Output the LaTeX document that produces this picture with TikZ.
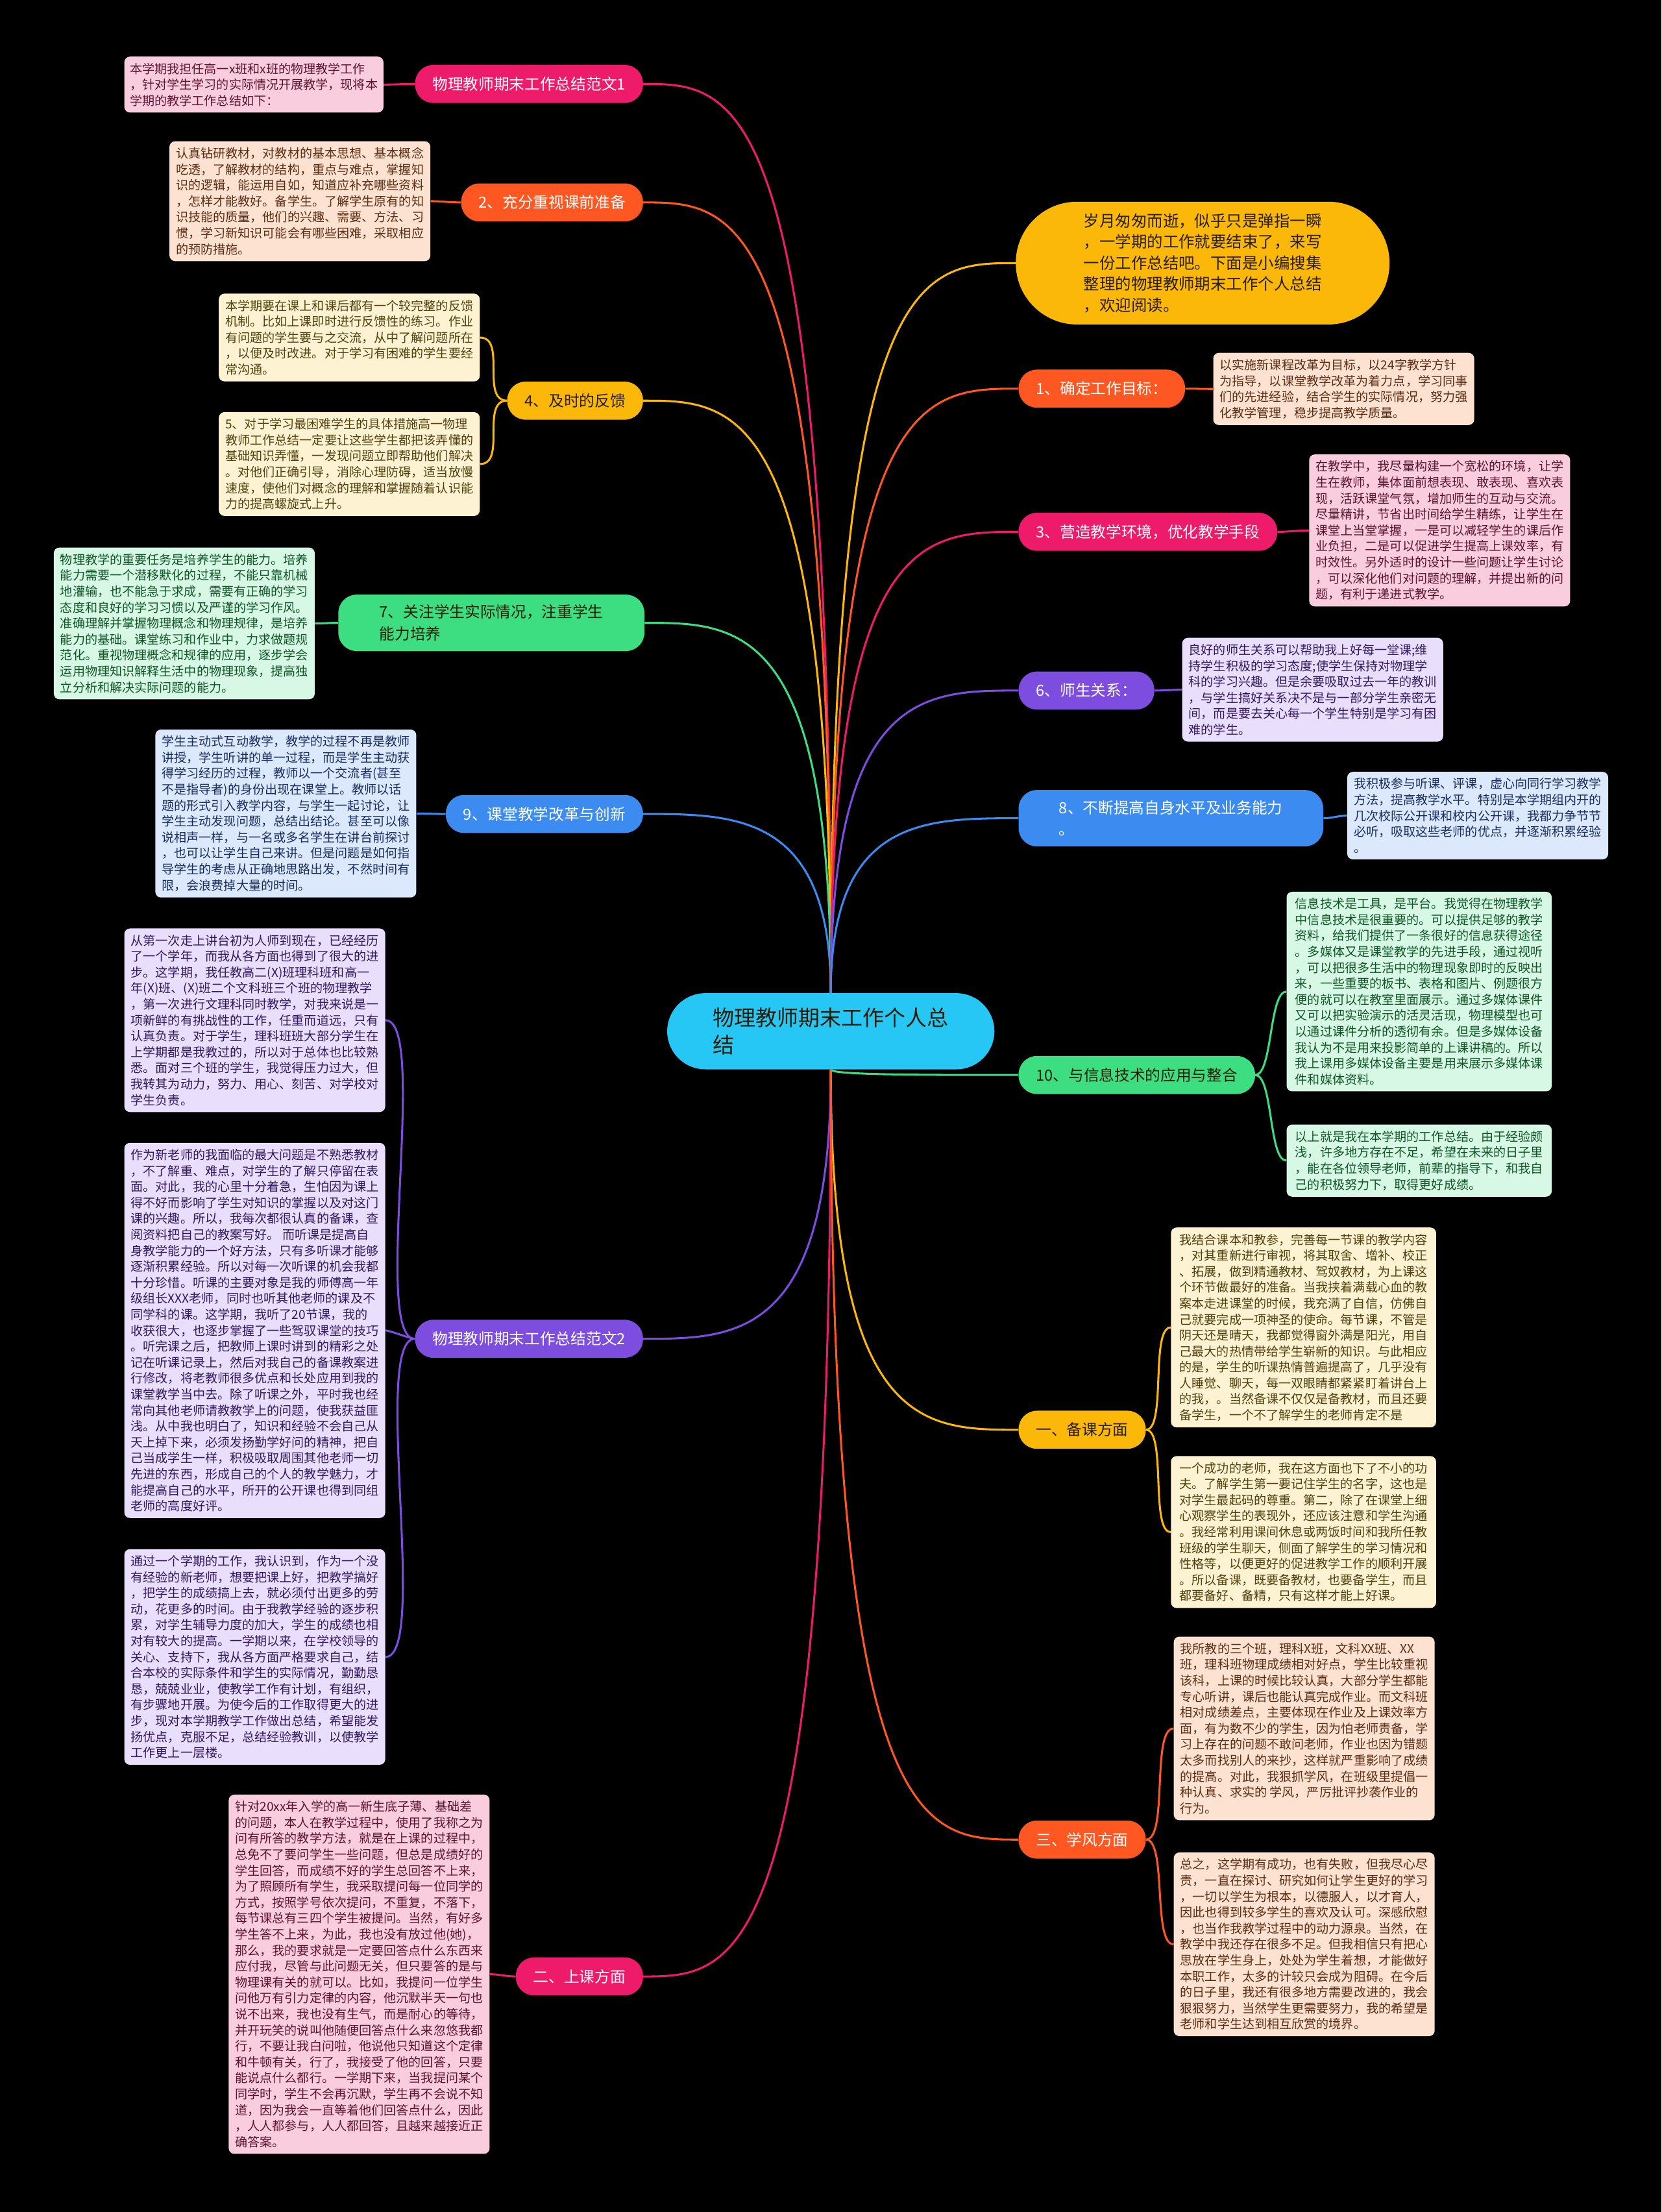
\documentclass[tikz,border=0pt]{standalone}
\usepackage{fontspec}
\setmainfont{Noto Sans CJK SC}
\usetikzlibrary{calc, backgrounds}

\definecolor{mmMagenta}{RGB}{238, 26, 106}
\definecolor{mmOrange}{RGB}{255, 87, 34}
\definecolor{mmYellow}{RGB}{252, 184, 8}
\definecolor{mmGreen}{RGB}{61, 222, 130}
\definecolor{mmBlue}{RGB}{59, 139, 240}
\definecolor{mmPurple}{RGB}{124, 77, 223}
\definecolor{mmCyan}{RGB}{38, 198, 245}
\definecolor{lfPink}{RGB}{250, 205, 222}
\definecolor{lfPeach}{RGB}{253, 226, 210}
\definecolor{lfCream}{RGB}{253, 243, 210}
\definecolor{lfGreen}{RGB}{214, 248, 228}
\definecolor{lfBlue}{RGB}{220, 232, 252}
\definecolor{lfLav}{RGB}{233, 222, 252}
\definecolor{txPink}{RGB}{90, 20, 50}
\definecolor{txPeach}{RGB}{90, 45, 20}
\definecolor{txCream}{RGB}{80, 65, 15}
\definecolor{txGreen}{RGB}{15, 85, 40}
\definecolor{txBlue}{RGB}{25, 45, 95}
\definecolor{txLav}{RGB}{50, 25, 95}
\definecolor{txDark}{RGB}{40, 30, 10}

\newcommand\leaffont{\fontsize{12.5}{16.1}\selectfont}

\begin{document}
\begin{tikzpicture}[
    x=0.05cm, y=-0.05cm,
    rootbox/.style={rectangle, fill=mmCyan, rounded corners=1.35cm,
                    minimum width=11.6cm, minimum height=2.7cm, align=left,
                    text=txDark, font=\fontsize{21.6}{28}\selectfont},
    branch/.style={rectangle, fill=#1, rounded corners=0.65cm,
                   minimum height=1.35cm, inner xsep=0.62cm, align=left,
                   text=white, font=\fontsize{15.5}{22}\selectfont},
    leaf/.style 2 args={rectangle, fill=#1, text=#2, rounded corners=0.2cm,
                        anchor=north west, align=left, minimum width=9.25cm,
                        inner xsep=0.2cm, inner ysep=0.22cm, font=\leaffont},
    link/.style={draw=#1, line width=2pt},
  ]
  \useasboundingbox (0,0) rectangle (1178,1568);
  \begin{scope}[on background layer]
    \fill[black] (0,0) rectangle (1178,1568);
  \end{scope}

  % centre
  \node[rootbox] (root) at (589,731) {物理教师期末工作个人总\\结};

  % left branches
  \node[branch=mmMagenta, anchor=east] (fan1) at (456,59.5) {物理教师期末工作总结范文1};
  \node[branch=mmOrange, anchor=east] (prep) at (456,143.5) {2、充分重视课前准备};
  \node[branch=mmYellow, anchor=east, text=txDark] (feedback) at (456,284) {4、及时的反馈};
  \node[branch=mmGreen, anchor=east, text=txDark, minimum width=10.85cm, minimum height=2cm] (ability) at (457,441.5) {7、关注学生实际情况，注重学生\\能力培养};
  \node[branch=mmBlue, anchor=east] (reform) at (456,577) {9、课堂教学改革与创新};
  \node[branch=mmPurple, anchor=east] (fan2) at (456,949) {物理教师期末工作总结范文2};
  \node[branch=mmMagenta, anchor=east] (lesson) at (456,1401) {二、上课方面};

  % right branches
  \node[rectangle, fill=mmYellow, rounded corners=2.17cm, minimum width=13.25cm,
        minimum height=4.35cm, anchor=west, align=left, text=txDark,
        font=\fontsize{16}{21.3}\selectfont] (intro) at (720,186.5)
    {岁月匆匆而逝，似乎只是弹指一瞬\\，一学期的工作就要结束了，来写\\一份工作总结吧。下面是小编搜集\\整理的物理教师期末工作个人总结\\，欢迎阅读。};
  \node[branch=mmOrange, anchor=west] (goal) at (722,275.5) {1、确定工作目标：};
  \node[branch=mmMagenta, anchor=west] (envir) at (722,377) {3、营造教学环境，优化教学手段};
  \node[branch=mmPurple, anchor=west] (relation) at (722,489.5) {6、师生关系：};
  \node[branch=mmBlue, anchor=west, minimum width=10.8cm, minimum height=2cm] (improve) at (722,580) {8、不断提高自身水平及业务能力\\。};
  \node[branch=mmGreen, anchor=west, text=txDark] (infotech) at (722,762) {10、与信息技术的应用与整合};
  \node[branch=mmYellow, anchor=west, text=txDark] (beike) at (722,1013.5) {一、备课方面};
  \node[branch=mmOrange, anchor=west] (xuefeng) at (722,1304) {三、学风方面};

  % left leaves
  \node[leaf={lfPink}{txPink}, minimum width=9.1cm] (fan1Txt) at (88,40)
    {本学期我担任高一x班和x班的物理教学工作\\，针对学生学习的实际情况开展教学，现将本\\学期的教学工作总结如下：};
  \node[leaf={lfPeach}{txPeach}] (prepTxt) at (120,100)
    {认真钻研教材，对教材的基本思想、基本概念\\吃透，了解教材的结构，重点与难点，掌握知\\识的逻辑，能运用自如，知道应补充哪些资料\\，怎样才能教好。备学生。了解学生原有的知\\识技能的质量，他们的兴趣、需要、方法、习\\惯，学习新知识可能会有哪些困难，采取相应\\的预防措施。};
  \node[leaf={lfCream}{txCream}] (fbTxtA) at (155,208)
    {本学期要在课上和课后都有一个较完整的反馈\\机制。比如上课即时进行反馈性的练习。作业\\有问题的学生要与之交流，从中了解问题所在\\，以便及时改进。对于学习有困难的学生要经\\常沟通。};
  \node[leaf={lfCream}{txCream}] (fbTxtB) at (155,292)
    {5、对于学习最困难学生的具体措施高一物理\\教师工作总结一定要让这些学生都把该弄懂的\\基础知识弄懂，一发现问题立即帮助他们解决\\。对他们正确引导，消除心理防碍，适当放慢\\速度，使他们对概念的理解和掌握随着认识能\\力的提高螺旋式上升。};
  \node[leaf={lfGreen}{txGreen}] (abilityTxt) at (38,388)
    {物理教学的重要任务是培养学生的能力。培养\\能力需要一个潜移默化的过程，不能只靠机械\\地灌输，也不能急于求成，需要有正确的学习\\态度和良好的学习习惯以及严谨的学习作风。\\准确理解并掌握物理概念和物理规律，是培养\\能力的基础。课堂练习和作业中，力求做题规\\范化。重视物理概念和规律的应用，逐步学会\\运用物理知识解释生活中的物理现象，提高独\\立分析和解决实际问题的能力。};
  \node[leaf={lfBlue}{txBlue}] (reformTxt) at (110,517)
    {学生主动式互动教学，教学的过程不再是教师\\讲授，学生听讲的单一过程，而是学生主动获\\得学习经历的过程，教师以一个交流者(甚至\\不是指导者)的身份出现在课堂上。教师以话\\题的形式引入教学内容，与学生一起讨论，让\\学生主动发现问题，总结出结论。甚至可以像\\说相声一样，与一名或多名学生在讲台前探讨\\，也可以让学生自己来讲。但是问题是如何指\\导学生的考虑从正确地思路出发，不然时间有\\限，会浪费掉大量的时间。};
  \node[leaf={lfLav}{txLav}] (fanTxtA) at (88,658)
    {从第一次走上讲台初为人师到现在，已经经历\\了一个学年，而我从各方面也得到了很大的进\\步。这学期，我任教高二(X)班理科班和高一\\年(X)班、(X)班二个文科班三个班的物理教学\\，第一次进行文理科同时教学，对我来说是一\\项新鲜的有挑战性的工作，任重而道远，只有\\认真负责。对于学生，理科班班大部分学生在\\上学期都是我教过的，所以对于总体也比较熟\\悉。面对三个班的学生，我觉得压力过大，但\\我转其为动力，努力、用心、刻苦、对学校对\\学生负责。};
  \node[leaf={lfLav}{txLav}] (fanTxtB) at (88,810)
    {作为新老师的我面临的最大问题是不熟悉教材\\，不了解重、难点，对学生的了解只停留在表\\面。对此，我的心里十分着急，生怕因为课上\\得不好而影响了学生对知识的掌握以及对这门\\课的兴趣。所以，我每次都很认真的备课，查\\阅资料把自己的教案写好。 而听课是提高自\\身教学能力的一个好方法，只有多听课才能够\\逐渐积累经验。所以对每一次听课的机会我都\\十分珍惜。听课的主要对象是我的师傅高一年\\级组长XXX老师，同时也听其他老师的课及不\\同学科的课。这学期，我听了20节课，我的\\收获很大，也逐步掌握了一些驾驭课堂的技巧\\。听完课之后，把教师上课时讲到的精彩之处\\记在听课记录上，然后对我自己的备课教案进\\行修改，将老教师很多优点和长处应用到我的\\课堂教学当中去。除了听课之外，平时我也经\\常向其他老师请教教学上的问题，使我获益匪\\浅。从中我也明白了，知识和经验不会自己从\\天上掉下来，必须发扬勤学好问的精神，把自\\己当成学生一样，积极吸取周围其他老师一切\\先进的东西，形成自己的个人的教学魅力，才\\能提高自己的水平，所开的公开课也得到同组\\老师的高度好评。};
  \node[leaf={lfLav}{txLav}] (fanTxtC) at (88,1098)
    {通过一个学期的工作，我认识到，作为一个没\\有经验的新老师，想要把课上好，把教学搞好\\，把学生的成绩搞上去，就必须付出更多的劳\\动，花更多的时间。由于我教学经验的逐步积\\累，对学生辅导力度的加大，学生的成绩也相\\对有较大的提高。一学期以来，在学校领导的\\关心、支持下，我从各方面严格要求自己，结\\合本校的实际条件和学生的实际情况，勤勤恳\\恳，兢兢业业，使教学工作有计划，有组织，\\有步骤地开展。为使今后的工作取得更大的进\\步，现对本学期教学工作做出总结，希望能发\\扬优点，克服不足，总结经验教训，以使教学\\工作更上一层楼。};
  \node[leaf={lfPink}{txPink}] (lessonTxt) at (162,1272)
    {针对20xx年入学的高一新生底子薄、基础差\\的问题，本人在教学过程中，使用了我称之为\\问有所答的教学方法，就是在上课的过程中，\\总免不了要问学生一些问题，但总是成绩好的\\学生回答，而成绩不好的学生总回答不上来，\\为了照顾所有学生，我采取提问每一位同学的\\方式，按照学号依次提问，不重复，不落下，\\每节课总有三四个学生被提问。当然，有好多\\学生答不上来，为此，我也没有放过他(她)，\\那么，我的要求就是一定要回答点什么东西来\\应付我，尽管与此问题无关，但只要答的是与\\物理课有关的就可以。比如，我提问一位学生\\问他万有引力定律的内容，他沉默半天一句也\\说不出来，我也没有生气，而是耐心的等待，\\并开玩笑的说叫他随便回答点什么来忽悠我都\\行，不要让我白问啦，他说他只知道这个定律\\和牛顿有关，行了，我接受了他的回答，只要\\能说点什么都行。一学期下来，当我提问某个\\同学时，学生不会再沉默，学生再不会说不知\\道，因为我会一直等着他们回答点什么，因此\\，人人都参与，人人都回答，且越来越接近正\\确答案。};

  % right leaves
  \node[leaf={lfPeach}{txPeach}] (goalTxt) at (860,250)
    {以实施新课程改革为目标，以24字教学方针\\为指导，以课堂教学改革为着力点，学习同事\\们的先进经验，结合学生的实际情况，努力强\\化教学管理，稳步提高教学质量。};
  \node[leaf={lfPink}{txPink}] (envTxt) at (928,322)
    {在教学中，我尽量构建一个宽松的环境，让学\\生在教师，集体面前想表现、敢表现、喜欢表\\现，活跃课堂气氛，增加师生的互动与交流。\\尽量精讲，节省出时间给学生精练，让学生在\\课堂上当堂掌握，一是可以减轻学生的课后作\\业负担，二是可以促进学生提高上课效率，有\\时效性。另外适时的设计一些问题让学生讨论\\，可以深化他们对问题的理解，并提出新的问\\题，有利于递进式教学。};
  \node[leaf={lfLav}{txLav}] (relTxt) at (838,452)
    {良好的师生关系可以帮助我上好每一堂课;维\\持学生积极的学习态度;使学生保持对物理学\\科的学习兴趣。但是余要吸取过去一年的教训\\，与学生搞好关系决不是与一部分学生亲密无\\间，而是要去关心每一个学生特别是学习有困\\难的学生。};
  \node[leaf={lfBlue}{txBlue}] (impTxt) at (955,547)
    {我积极参与听课、评课，虚心向同行学习教学\\方法，提高教学水平。特别是本学期组内开的\\几次校际公开课和校内公开课，我都力争节节\\必听，吸取这些老师的优点，并逐渐积累经验\\。};
  \node[leaf={lfGreen}{txGreen}, minimum width=9.4cm] (itTxtA) at (912,632)
    {信息技术是工具，是平台。我觉得在物理教学\\中信息技术是很重要的。可以提供足够的教学\\资料，给我们提供了一条很好的信息获得途径\\。多媒体又是课堂教学的先进手段，通过视听\\，可以把很多生活中的物理现象即时的反映出\\来，一些重要的板书、表格和图片、例题很方\\便的就可以在教室里面展示。通过多媒体课件\\又可以把实验演示的活灵活现，物理模型也可\\以通过课件分析的透彻有余。但是多媒体设备\\我认为不是用来投影简单的上课讲稿的。所以\\我上课用多媒体设备主要是用来展示多媒体课\\件和媒体资料。};
  \node[leaf={lfGreen}{txGreen}, minimum width=9.4cm] (itTxtB) at (912,797)
    {以上就是我在本学期的工作总结。由于经验颇\\浅，许多地方存在不足，希望在未来的日子里\\，能在各位领导老师，前辈的指导下，和我自\\己的积极努力下，取得更好成绩。};
  \node[leaf={lfCream}{txCream}, minimum width=9.4cm] (bkTxtA) at (830,870)
    {我结合课本和教参，完善每一节课的教学内容\\，对其重新进行审视，将其取舍、增补、校正\\、拓展，做到精通教材、驾奴教材，为上课这\\个环节做最好的准备。当我挟着满载心血的教\\案本走进课堂的时候，我充满了自信，仿佛自\\己就要完成一项神圣的使命。每节课，不管是\\阴天还是晴天，我都觉得窗外满是阳光，用自\\己最大的热情带给学生崭新的知识。与此相应\\的是，学生的听课热情普遍提高了，几乎没有\\人睡觉、聊天，每一双眼睛都紧紧盯着讲台上\\的我，。当然备课不仅仅是备教材，而且还要\\备学生，一个不了解学生的老师肯定不是};
  \node[leaf={lfCream}{txCream}, minimum width=9.4cm] (bkTxtB) at (830,1032)
    {一个成功的老师，我在这方面也下了不小的功\\夫。了解学生第一要记住学生的名字，这也是\\对学生最起码的尊重。第二，除了在课堂上细\\心观察学生的表现外，还应该注意和学生沟通\\。我经常利用课间休息或两饭时间和我所任教\\班级的学生聊天，侧面了解学生的学习情况和\\性格等，以便更好的促进教学工作的顺利开展\\。所以备课，既要备教材，也要备学生，而且\\都要备好、备精，只有这样才能上好课。};
  \node[leaf={lfPeach}{txPeach}] (xfTxtA) at (832,1160)
    {我所教的三个班，理科X班，文科XX班、XX\\班，理科班物理成绩相对好点，学生比较重视\\该科，上课的时候比较认真，大部分学生都能\\专心听讲，课后也能认真完成作业。而文科班\\相对成绩差点，主要体现在作业及上课效率方\\面，有为数不少的学生，因为怕老师责备，学\\习上存在的问题不敢问老师，作业也因为错题\\太多而找别人的来抄，这样就严重影响了成绩\\的提高。对此，我狠抓学风，在班级里提倡一\\种认真、求实的 学风，严厉批评抄袭作业的\\行为。};
  \node[leaf={lfPeach}{txPeach}] (xfTxtB) at (832,1313)
    {总之，这学期有成功，也有失败，但我尽心尽\\责，一直在探讨、研究如何让学生更好的学习\\，一切以学生为根本，以德服人，以才育人，\\因此也得到较多学生的喜欢及认可。深感欣慰\\，也当作我教学过程中的动力源泉。当然，在\\教学中我还存在很多不足。但我相信只有把心\\思放在学生身上，处处为学生着想，才能做好\\本职工作，太多的计较只会成为阻碍。在今后\\的日子里，我还有很多地方需要改进的，我会\\狠狠努力，当然学生更需要努力，我的希望是\\老师和学生达到相互欣赏的境界。};

  \begin{scope}[on background layer]
    % centre to branches
    \foreach \b/\c in {fan1/mmMagenta, prep/mmOrange, feedback/mmYellow,
                       ability/mmGreen, reform/mmBlue, fan2/mmPurple, lesson/mmMagenta}
      \draw[link=\c] (root) .. controls (root |- \b) and ($(\b.east)+(66,0)$) .. (\b.east);
    \foreach \b/\c in {intro/mmYellow, goal/mmOrange, envir/mmMagenta, relation/mmPurple,
                       improve/mmBlue, infotech/mmGreen, beike/mmYellow, xuefeng/mmOrange}
      \draw[link=\c] (root) .. controls (root |- \b) and ($(\b.west)+(-67,0)$) .. (\b.west);

    % branches to texts
    \draw[link=mmMagenta] (fan1.west) to[out=180, in=0] (fan1Txt.east);
    \draw[link=mmOrange] (prep.west) to[out=180, in=0] (prepTxt.east);
    \draw[link=mmYellow] (feedback.west) to[out=180, in=0] (fbTxtA.east);
    \draw[link=mmYellow] (feedback.west) to[out=180, in=0] (fbTxtB.east);
    \draw[link=mmGreen] (ability.west) to[out=180, in=0] (abilityTxt.east);
    \draw[link=mmBlue] (reform.west) to[out=180, in=0] (reformTxt.east);
    \draw[link=mmPurple] (fan2.west) to[out=180, in=0, looseness=0.35] (fanTxtA.east);
    \draw[link=mmPurple] (fan2.west) to[out=180, in=0, looseness=0.35] (fanTxtB.east);
    \draw[link=mmPurple] (fan2.west) to[out=180, in=0, looseness=0.35] (fanTxtC.east);
    \draw[link=mmMagenta] (lesson.west) to[out=180, in=0] (lessonTxt.east);

    \draw[link=mmOrange] (goal.east) to[out=0, in=180] (goalTxt.west);
    \draw[link=mmMagenta] (envir.east) to[out=0, in=180] (envTxt.west);
    \draw[link=mmPurple] (relation.east) to[out=0, in=180] (relTxt.west);
    \draw[link=mmBlue] (improve.east) to[out=0, in=180] (impTxt.west);
    \draw[link=mmGreen] (infotech.east) to[out=0, in=180, looseness=0.5] (itTxtA.west);
    \draw[link=mmGreen] (infotech.east) to[out=0, in=180, looseness=0.5] (itTxtB.west);
    \draw[link=mmYellow] (beike.east) to[out=0, in=180, looseness=0.5] (bkTxtA.west);
    \draw[link=mmYellow] (beike.east) to[out=0, in=180, looseness=0.5] (bkTxtB.west);
    \draw[link=mmOrange] (xuefeng.east) to[out=0, in=180, looseness=0.5] (xfTxtA.west);
    \draw[link=mmOrange] (xuefeng.east) to[out=0, in=180, looseness=0.5] (xfTxtB.west);
  \end{scope}
\end{tikzpicture}
\end{document}
